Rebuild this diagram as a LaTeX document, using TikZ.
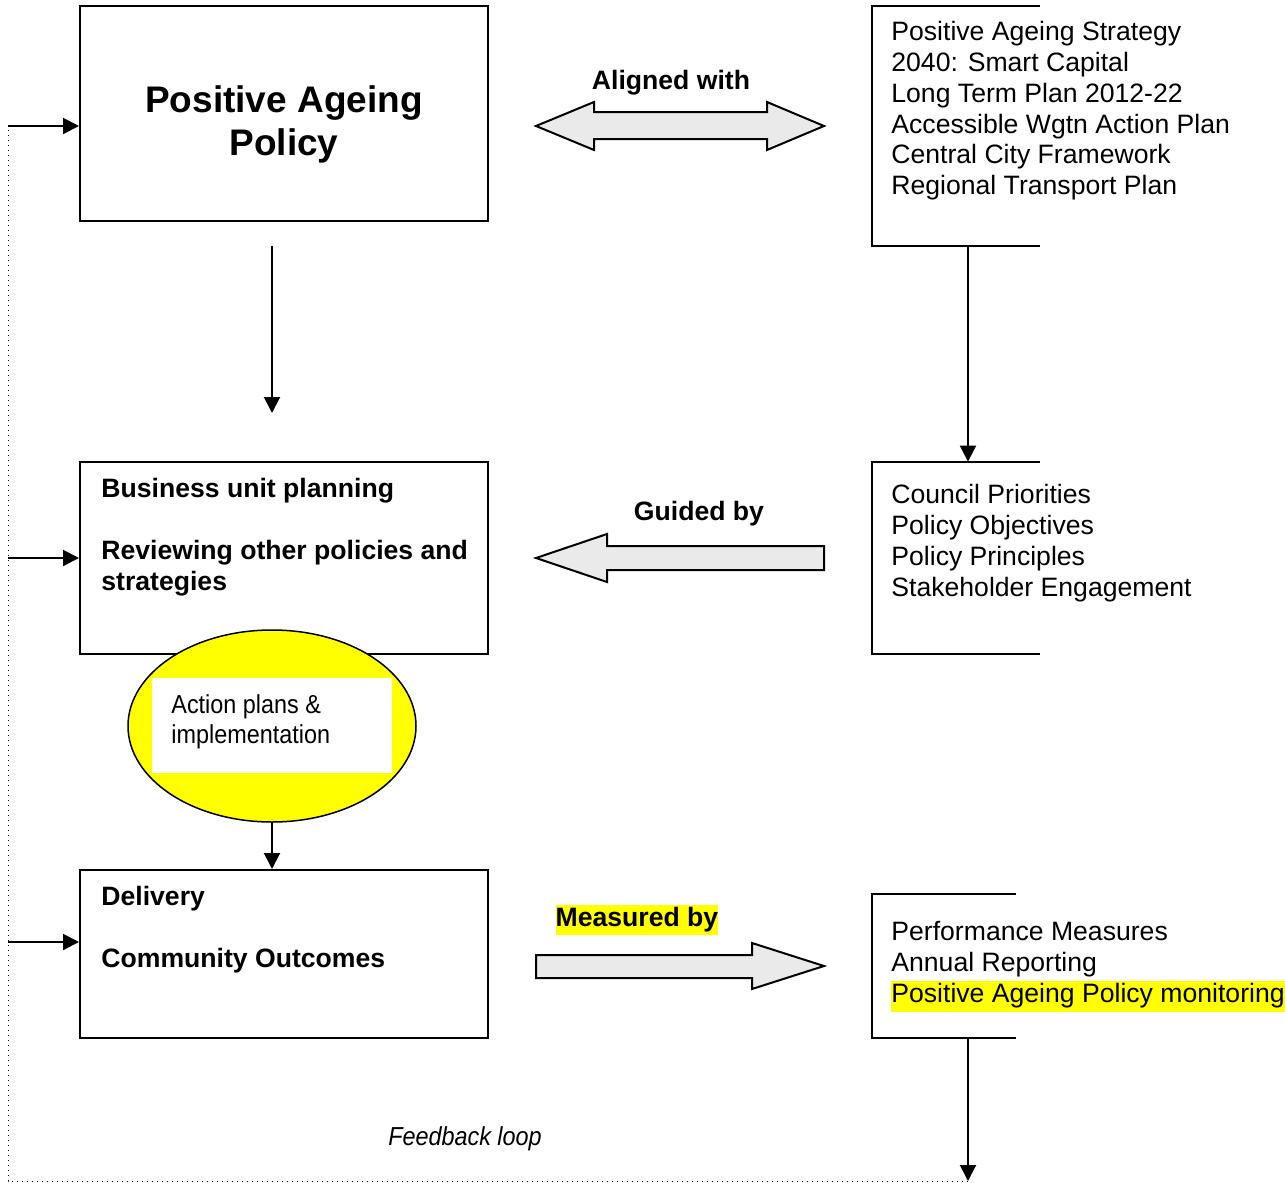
\documentclass[tikz,border=0pt]{standalone}
\usepackage{fontspec}
\setmainfont{Liberation Sans}
\newfontfamily\narrowfont[FakeStretch=0.9]{Liberation Sans}
\usetikzlibrary{arrows.meta,shapes.geometric}
\definecolor{arrowgray}{HTML}{EAEAEA}
\definecolor{hilite}{HTML}{FFFF00}
\setlength{\fboxsep}{0pt}
\tikzset{
  box/.style={draw, line width=1pt, inner sep=0pt, minimum width=204pt},
  openbox/.style={inner sep=0pt, minimum width=84pt},
  body/.style={inner sep=0pt, align=left, font=\fontsize{13.3}{15.4}\selectfont},
  bodybf/.style={inner sep=0pt, align=left, font=\bfseries\fontsize{13.3}{15.4}\selectfont},
  flow/.style={->, line width=1pt},
  blockarrow/.style={draw, fill=arrowgray, line width=1pt, line join=miter},
  frame/.style={line width=1pt},
}
\begin{document}
\begin{tikzpicture}[x=0.5pt,y=-0.5pt,>={Triangle[length=8pt,width=8pt]}]
  \useasboundingbox (0,0) rectangle (1285,1183);
  % left column
  \node[box, minimum height=107.5pt] (pap) at (284,113.5) {};
  \node[box, minimum height=96pt] (bup) at (284,558) {};
  \node[box, minimum height=84pt] (deliv) at (284,954) {};
  \node[anchor=north, inner sep=0pt, align=center,
        font=\bfseries\fontsize{18.5}{21.5}\selectfont] (pap-txt) at (284,85)
        {Positive Ageing\\Policy};
  \node[bodybf, anchor=north west] (bup-txt) at (101,478)
        {Business unit planning\\[15.4pt]Reviewing other policies and\\strategies};
  \node[bodybf, anchor=north west] (deliv-txt) at (101,886)
        {Delivery\\[15.4pt]Community Outcomes};
  % action plans
  \node[ellipse, draw, fill=hilite, line width=0.75pt, inner sep=0pt,
        minimum width=144pt, minimum height=96pt] (act) at (272,726) {};
  \node[fill=white, inner sep=0pt, minimum width=120pt, minimum height=47.5pt] (actbox) at (272,725.5) {};
  \node[anchor=north west, inner sep=0pt, align=left,
        font=\narrowfont\fontsize{13}{15}\selectfont] (act-txt) at (171,694)
        {Action plans \&\\implementation};
  % right column
  \node[openbox, minimum height=120pt] (strat) at (956,126) {};
  \node[openbox, minimum height=96pt] (guide) at (956,558) {};
  \node[openbox, minimum width=72pt, minimum height=72pt] (meas) at (944,966) {};
  \draw[frame] (strat.north east) -- (strat.north west) -- (strat.south west) -- (strat.south east);
  \draw[frame] (guide.north east) -- (guide.north west) -- (guide.south west) -- (guide.south east);
  \draw[frame] (meas.north east) -- (meas.north west) -- (meas.south west) -- (meas.south east);
  \node[body, anchor=north west] (strat-txt) at (891,21)
        {Positive Ageing Strategy\\2040: Smart Capital\\Long Term Plan 2012-22\\Accessible Wgtn Action Plan\\Central City Framework\\Regional Transport Plan};
  \node[body, anchor=north west] (guide-txt) at (891,484)
        {Council Priorities\\Policy Objectives\\Policy Principles\\Stakeholder Engagement};
  \node[body, anchor=north west] (meas-txt) at (891,921)
        {Performance Measures\\Annual Reporting\\\colorbox{hilite}{\strut Positive Ageing Policy monitoring}};
  % block arrows
  \draw[blockarrow] (536,126) -- (594,102) -- (594,112) -- (767,112) -- (767,102) -- (824,126)
        -- (767,150) -- (767,139) -- (594,139) -- (594,150) -- cycle;
  \draw[blockarrow] (536,558) -- (607,534) -- (607,546) -- (824,546) -- (824,570)
        -- (607,570) -- (607,582) -- cycle;
  \draw[blockarrow] (536,955) -- (752,955) -- (752,943) -- (824,966) -- (752,989)
        -- (752,978) -- (536,978) -- cycle;
  \node[bodybf] (align-lbl) at (671,83) {Aligned with};
  \node[bodybf] (guide-lbl) at (699,514) {Guided by};
  \node[bodybf] (meas-lbl) at (637,920) {\colorbox{hilite}{\strut Measured by}};
  % connectors
  \coordinate (pap-out) at (272,246);
  \coordinate (pap-end) at (272,413);
  \draw[flow] (pap-out) -- (pap-end);
  \draw[flow] ([xshift=6pt]strat.south) -- ([xshift=6pt]guide.north);
  \draw[flow] (act.south) -- (act.south |- deliv.north);
  % feedback loop
  \coordinate (fb-r) at (968,1181);
  \coordinate (fb-l) at (8,1181);
  \coordinate (fb-1) at (8,126);
  \coordinate (fb-2) at (8,558);
  \coordinate (fb-3) at (8,942);
  \draw[flow] ([xshift=12pt]meas.south) -- (fb-r);
  \draw[dotted, line width=0.5pt] (fb-r) -- (fb-l) -- (fb-1);
  \draw[flow] (fb-1) -- (fb-1 -| pap.west);
  \draw[flow] (fb-2) -- (fb-2 -| bup.west);
  \draw[flow] (fb-3) -- (fb-3 -| deliv.west);
  \node[inner sep=0pt, font=\narrowfont\itshape\fontsize{13}{15}\selectfont] (fb-txt) at (465,1139) {Feedback loop};
\end{tikzpicture}
\end{document}
